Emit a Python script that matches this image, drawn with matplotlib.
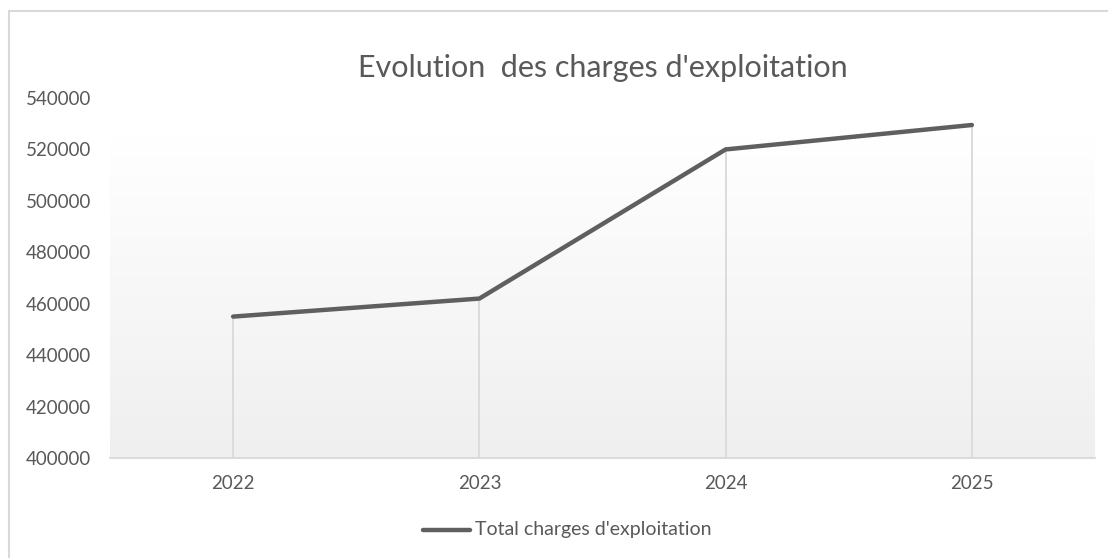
import numpy as np
import matplotlib.pyplot as plt
from matplotlib.lines import Line2D
from matplotlib.patches import Rectangle
from matplotlib.colors import LinearSegmentedColormap

# Data
years = ["2022", "2023", "2024", "2025"]
charges = [455000, 462000, 520000, 529500]
series_label = "Total charges d'exploitation"
title = "Evolution  des charges d'exploitation"
y_ticks = [400000, 420000, 440000, 460000, 480000, 500000, 520000, 540000]

TEXT = "#595959"
LINE = "#5f5f5f"

plt.rcParams['font.family'] = ['Lato', 'DejaVu Sans']

W, H = 1108, 558
fig = plt.figure(figsize=(W / 100, H / 100), dpi=100)
fig.patch.set_facecolor("white")

# axes placed in pixel coordinates
left, right, top, bottom = 110, 1095, 98, 458
ax = fig.add_axes([left / W, 1 - bottom / H, (right - left) / W, (bottom - top) / H])
ax.set_facecolor("none")

# chart border (left and top only visible in the crop)
fig.add_artist(Rectangle((9 / W, -0.1), 1.2, 1 - 11 / H + 0.1, transform=fig.transFigure,
                         fill=False, edgecolor="#d9d9d9", linewidth=1.5))

# gradient background of the plot area
grad_top = (bottom - 137) / (bottom - top)
grad = np.linspace(0, 1, 256).reshape(-1, 1)
ax.imshow(grad, extent=[0, 1, 0, grad_top], transform=ax.transAxes, aspect="auto",
          cmap=LinearSegmentedColormap.from_list("g", ["#efefef", "#ffffff"]),
          origin="lower", zorder=0)

x = np.arange(len(years)) + 0.5
ax.set_xlim(0, len(years))
ax.set_ylim(y_ticks[0], y_ticks[-1])

# drop lines
ax.vlines(x, y_ticks[0], charges, color="#d9d9d9", linewidth=1.3, zorder=1)
ax.plot(x, charges, color=LINE, linewidth=3.2, solid_capstyle="round", zorder=3)

ax.set_xticks(x)
ax.set_xticklabels(years)
ax.set_yticks(y_ticks)
ax.set_yticklabels([str(v) for v in y_ticks])
ax.tick_params(axis="both", length=0, colors=TEXT, labelsize=13.5)
ax.tick_params(axis="x", pad=12)
ax.tick_params(axis="y", pad=84 * 0.72)
for lab in ax.get_yticklabels():
    lab.set_horizontalalignment("left")

for s in ["top", "right", "left"]:
    ax.spines[s].set_visible(False)
ax.spines["bottom"].set_color("#d9d9d9")
ax.spines["bottom"].set_linewidth(1.3)

fig.text((left + right) / 2 / W, 1 - 68 / H, title, ha="center", va="center",
         fontsize=22, color=TEXT)

# legend
fig.add_artist(Line2D([423 / W, 470 / W], [1 - 530 / H, 1 - 530 / H], color=LINE,
                      linewidth=3.2, solid_capstyle="round"))
fig.text(475 / W, 1 - 530 / H, series_label, ha="left", va="center", fontsize=14, color=TEXT)

fig.savefig("out.png", dpi=100)
